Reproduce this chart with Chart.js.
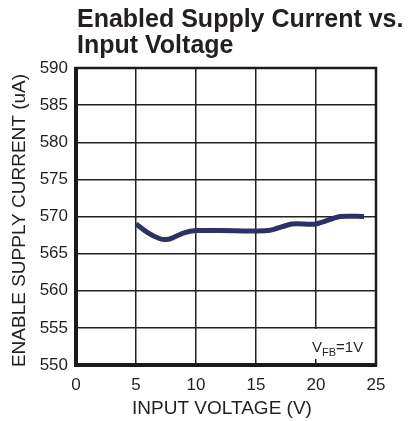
<!DOCTYPE html>
<html>
<head>
<meta charset="utf-8">
<script src="https://cdn.jsdelivr.net/npm/chart.js@4/dist/chart.umd.min.js"></script>
<style>
  html, body { margin: 0; padding: 0; background: #fff; }
  #wrap { width: 413px; height: 421px; }
</style>
</head>
<body>
<div id="wrap"><canvas id="currentChart" width="413" height="421"></canvas></div>
<script>
var inputVoltage = [5, 6, 7, 7.5, 8, 9, 10, 12, 16, 18, 20, 22, 24];
var supplyCurrent = [569, 567.8, 567, 566.9, 567.1, 567.8, 568.1, 568.1, 568.1, 569, 569, 570, 570];
var titleLines = ['Enabled Supply Current vs.', 'Input Voltage'];
var xTitle = 'INPUT VOLTAGE (V)';
var yTitle = 'ENABLE SUPPLY CURRENT (uA)';

var textColor = '#231f20';
var font = '"Liberation Sans", Arial, sans-serif';

var labelsPlugin = {
  id: 'labels',
  beforeDatasetsDraw: function(chart) {
    var c = chart.ctx, a = chart.chartArea;
    c.save();
    // annotation box hides the grid behind it
    c.fillStyle = '#fff';
    c.fillRect(a.right - 66, a.bottom - 36, 62, 30);
    c.restore();
  },
  afterDraw: function(chart) {
    var c = chart.ctx, a = chart.chartArea;
    c.save();
    c.fillStyle = textColor;

    c.font = 'bold 25px ' + font;
    c.textBaseline = 'alphabetic';
    c.textAlign = 'left';
    c.fillText(titleLines[0], 77, 27);
    c.fillText(titleLines[1], 77, 53);

    c.font = '19px ' + font;
    c.textAlign = 'center';
    c.fillText(xTitle, (a.left + a.right) / 2 - 4, 414);

    c.save();
    c.translate(25, (a.top + a.bottom) / 2 + 4);
    c.rotate(-Math.PI / 2);
    c.fillText(yTitle, 0, 0);
    c.restore();

    // V_FB = 1V
    c.textAlign = 'left';
    c.font = '15px ' + font;
    var x = a.right - 64, y = a.bottom - 13;
    c.fillText('V', x, y);
    x += c.measureText('V').width;
    c.font = '11px ' + font;
    c.fillText('FB', x, y + 4);
    x += c.measureText('FB').width;
    c.font = '15px ' + font;
    c.fillText('=1V', x, y);

    // frame
    c.strokeStyle = '#1a1a1a';
    c.lineWidth = 2.5;
    c.strokeRect(a.left, a.top, a.right - a.left, a.bottom - a.top);
    c.lineWidth = 4;
    c.beginPath();
    c.moveTo(a.left, a.top - 1);
    c.lineTo(a.left, a.bottom);
    c.lineTo(a.right + 1, a.bottom);
    c.stroke();
    c.restore();
  }
};

function buildChart() {
  var ctx = document.getElementById('currentChart');
  var points = inputVoltage.map(function(v, i) { return { x: v, y: supplyCurrent[i] }; });

  new Chart(ctx, {
    type: 'line',
    data: {
      datasets: [{
        data: points,
        borderColor: '#2e3068',
        borderWidth: 5,
        pointRadius: 0,
        fill: false,
        tension: 0.25,
        borderCapStyle: 'butt',
        borderJoinStyle: 'round'
      }]
    },
    options: {
      responsive: false,
      animation: false,
      layout: { padding: { top: 68, left: 0, right: 37, bottom: 0 } },
      plugins: { legend: { display: false }, tooltip: { enabled: false }, title: { display: false } },
      scales: {
        x: {
          type: 'linear',
          min: 0,
          max: 25,
          ticks: { stepSize: 5, color: textColor, font: { size: 17, family: font }, padding: 10, maxRotation: 0 },
          grid: { color: '#222', lineWidth: 1.5, drawTicks: false },
          border: { display: false },
          afterFit: function(s) { s.height = 56; }
        },
        y: {
          min: 550,
          max: 590,
          ticks: { stepSize: 5, color: textColor, font: { size: 17, family: font }, padding: 8 },
          grid: { color: '#222', lineWidth: 1.5, drawTicks: false },
          border: { display: false },
          afterFit: function(s) { s.width = 76; }
        }
      }
    },
    plugins: [labelsPlugin]
  });
}

buildChart();
</script>
</body>
</html>
